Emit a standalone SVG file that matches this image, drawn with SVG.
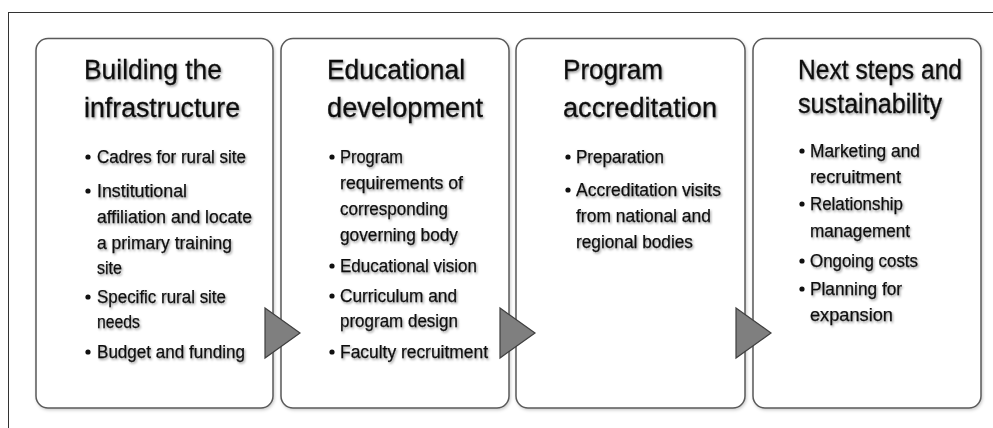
<svg xmlns="http://www.w3.org/2000/svg" width="993" height="428" viewBox="0 0 993 428">
<style>
.frame{fill:none;stroke:#333;stroke-width:1}
.box{fill:#fff;stroke:#5a5a5a;stroke-width:1.5}
.t{font-family:"Liberation Sans",Arial,sans-serif;font-size:27px;fill:#111;stroke:#111;stroke-width:0.3;filter:url(#ts)}
.b{font-family:"Liberation Sans",Arial,sans-serif;font-size:17.5px;fill:#111;stroke:#111;stroke-width:0.25;filter:url(#ts)}
.dot{fill:#111}
.arr{fill:#7f7f7f;stroke:#3f3f3f;stroke-width:1.2;stroke-linejoin:miter}
</style>
<defs>
<filter id="ts" x="-10%" y="-30%" width="120%" height="160%">
<feDropShadow dx="1.2" dy="1.6" stdDeviation="1" flood-color="#000" flood-opacity="0.4"/>
</filter>
<filter id="bs" x="-5%" y="-5%" width="110%" height="110%">
<feDropShadow dx="1" dy="1.5" stdDeviation="1.5" flood-color="#000" flood-opacity="0.2"/>
</filter>
</defs>
<rect width="993" height="428" fill="#fff"/>
<rect class="frame" x="8.5" y="12.5" width="1000" height="430"/>

<g id="node1">
<rect class="box" x="36" y="38.5" width="237" height="369.5" rx="12" filter="url(#bs)"/>
<text class="t" x="84" y="79" textLength="138" lengthAdjust="spacingAndGlyphs">Building the</text>
<text class="t" x="84" y="117" textLength="156" lengthAdjust="spacingAndGlyphs">infrastructure</text>
<circle class="dot" cx="88" cy="157" r="2.6"/>
<text class="b" x="97" y="163" textLength="149" lengthAdjust="spacingAndGlyphs">Cadres for rural site</text>
<circle class="dot" cx="88" cy="191" r="2.6"/>
<text class="b" x="97" y="197" textLength="90" lengthAdjust="spacingAndGlyphs">Institutional</text>
<text class="b" x="97" y="223" textLength="155" lengthAdjust="spacingAndGlyphs">affiliation and locate</text>
<text class="b" x="97" y="249" textLength="135" lengthAdjust="spacingAndGlyphs">a primary training</text>
<text class="b" x="97" y="274" textLength="25" lengthAdjust="spacingAndGlyphs">site</text>
<circle class="dot" cx="88" cy="297" r="2.6"/>
<text class="b" x="97" y="303" textLength="129" lengthAdjust="spacingAndGlyphs">Specific rural site</text>
<text class="b" x="97" y="328" textLength="43" lengthAdjust="spacingAndGlyphs">needs</text>
<circle class="dot" cx="88" cy="352" r="2.6"/>
<text class="b" x="97" y="358" textLength="148" lengthAdjust="spacingAndGlyphs">Budget and funding</text>
</g>

<g id="node2">
<rect class="box" x="281" y="38.5" width="228" height="369.5" rx="12" filter="url(#bs)"/>
<text class="t" x="327" y="79" textLength="138" lengthAdjust="spacingAndGlyphs">Educational</text>
<text class="t" x="327" y="117" textLength="156" lengthAdjust="spacingAndGlyphs">development</text>
<circle class="dot" cx="332" cy="157" r="2.6"/>
<text class="b" x="340" y="163" textLength="63" lengthAdjust="spacingAndGlyphs">Program</text>
<text class="b" x="340" y="189" textLength="123" lengthAdjust="spacingAndGlyphs">requirements of</text>
<text class="b" x="340" y="215" textLength="108" lengthAdjust="spacingAndGlyphs">corresponding</text>
<text class="b" x="340" y="241" textLength="118" lengthAdjust="spacingAndGlyphs">governing body</text>
<circle class="dot" cx="332" cy="266" r="2.6"/>
<text class="b" x="340" y="272" textLength="137" lengthAdjust="spacingAndGlyphs">Educational vision</text>
<circle class="dot" cx="332" cy="296" r="2.6"/>
<text class="b" x="340" y="302" textLength="117" lengthAdjust="spacingAndGlyphs">Curriculum and</text>
<text class="b" x="340" y="327" textLength="118" lengthAdjust="spacingAndGlyphs">program design</text>
<circle class="dot" cx="332" cy="352" r="2.6"/>
<text class="b" x="340" y="358" textLength="148" lengthAdjust="spacingAndGlyphs">Faculty recruitment</text>
</g>

<g id="node3">
<rect class="box" x="516" y="38.5" width="229" height="369.5" rx="12" filter="url(#bs)"/>
<text class="t" x="563" y="79" textLength="100" lengthAdjust="spacingAndGlyphs">Program</text>
<text class="t" x="563" y="117" textLength="154" lengthAdjust="spacingAndGlyphs">accreditation</text>
<circle class="dot" cx="568" cy="157" r="2.6"/>
<text class="b" x="576" y="163" textLength="88" lengthAdjust="spacingAndGlyphs">Preparation</text>
<circle class="dot" cx="568" cy="190" r="2.6"/>
<text class="b" x="576" y="196" textLength="145" lengthAdjust="spacingAndGlyphs">Accreditation visits</text>
<text class="b" x="576" y="222" textLength="135" lengthAdjust="spacingAndGlyphs">from national and</text>
<text class="b" x="576" y="248" textLength="117" lengthAdjust="spacingAndGlyphs">regional bodies</text>
</g>

<g id="node4">
<rect class="box" x="753" y="38.5" width="228" height="369.5" rx="12" filter="url(#bs)"/>
<text class="t" x="798" y="79" textLength="164" lengthAdjust="spacingAndGlyphs">Next steps and</text>
<text class="t" x="798" y="113" textLength="144" lengthAdjust="spacingAndGlyphs">sustainability</text>
<circle class="dot" cx="802" cy="151" r="2.6"/>
<text class="b" x="810" y="157" textLength="110" lengthAdjust="spacingAndGlyphs">Marketing and</text>
<text class="b" x="810" y="183" textLength="91" lengthAdjust="spacingAndGlyphs">recruitment</text>
<circle class="dot" cx="802" cy="204" r="2.6"/>
<text class="b" x="810" y="210" textLength="93" lengthAdjust="spacingAndGlyphs">Relationship</text>
<text class="b" x="810" y="237" textLength="100" lengthAdjust="spacingAndGlyphs">management</text>
<circle class="dot" cx="802" cy="261" r="2.6"/>
<text class="b" x="810" y="267" textLength="108" lengthAdjust="spacingAndGlyphs">Ongoing costs</text>
<circle class="dot" cx="802" cy="289" r="2.6"/>
<text class="b" x="810" y="295" textLength="92" lengthAdjust="spacingAndGlyphs">Planning for</text>
<text class="b" x="810" y="321" textLength="83" lengthAdjust="spacingAndGlyphs">expansion</text>
</g>

<g id="connectors">
<polygon class="arr" points="265,308 300,333 265,358"/>
<polygon class="arr" points="500,308 535,333 500,358"/>
<polygon class="arr" points="736,308 771,333 736,358"/>
</g>
</svg>
